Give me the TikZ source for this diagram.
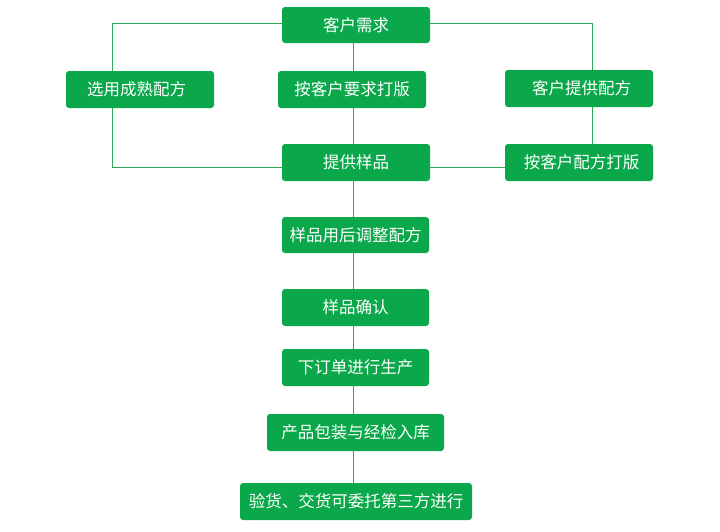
\documentclass[tikz,border=0pt]{standalone}
\usepackage{fontspec}
\setmainfont{Noto Sans CJK SC}
\begin{document}
\begin{tikzpicture}[x=1pt,y=-1pt,
  box/.style={fill=boxgreen, rounded corners=3pt, text=white, font=\fontsize{16.5}{18}\selectfont, inner sep=0pt, anchor=center},
  link/.style={draw=linegreen, line width=0.8pt}]
\definecolor{boxgreen}{HTML}{0AA84A}
\definecolor{linegreen}{HTML}{2DA855}
\useasboundingbox (0,0) rectangle (720,531);
\node[box, minimum width=148pt, minimum height=36pt] (a) at (356,25) {客户需求};
\node[box, minimum width=148pt, minimum height=37pt] (b) at (140,89.5) {\hspace*{-7pt}选用成熟配方};
\node[box, minimum width=148pt, minimum height=37pt] (c) at (352,89.5) {按客户要求打版};
\node[box, minimum width=148pt, minimum height=37pt] (d) at (579,88.5) {\hspace*{5pt}客户提供配方};
\node[box, minimum width=148pt, minimum height=37pt] (e) at (356,162.5) {提供样品};
\node[box, minimum width=148pt, minimum height=37pt] (f) at (579,162.5) {\hspace*{5pt}按客户配方打版};
\node[box, minimum width=147pt, minimum height=36pt] (g) at (355.5,235) {样品用后调整配方};
\node[box, minimum width=147pt, minimum height=37pt] (h) at (355.5,307.5) {样品确认};
\node[box, minimum width=147pt, minimum height=37pt] (i) at (355.5,367.5) {下订单进行生产};
\node[box, minimum width=177pt, minimum height=37pt] (j) at (355.5,432.5) {产品包装与经检入库};
\node[box, minimum width=232pt, minimum height=37pt] (k) at (356,501.5) {验货、交货可委托第三方进行};
\coordinate (tl) at (112,23);
\coordinate (tr) at (592,23);
\coordinate (bl) at (112,167);
\draw[link] (a.west |- 0,23) -- (tl) -- (b.north -| tl);
\draw[link] (b.south -| tl) -- (bl) -- (e.west |- bl);
\draw[link] (a.east |- 0,23) -- (tr) -- (d.north -| tr);
\draw[link] (d.south -| tr) -- (f.north -| tr);
\draw[link] (e.east |- bl) -- (f.west |- bl);
\draw[link] (a.south -| 353.3,0) -- (c.north -| 353.3,0);
\draw[link] (c.south -| 353.3,0) -- (e.north -| 353.3,0);
\draw[link] (e.south -| 353.3,0) -- (g.north -| 353.3,0);
\draw[link] (g.south -| 353.3,0) -- (h.north -| 353.3,0);
\draw[link] (h.south -| 353.3,0) -- (i.north -| 353.3,0);
\draw[link] (i.south -| 353.3,0) -- (j.north -| 353.3,0);
\draw[link] (j.south -| 353.3,0) -- (k.north -| 353.3,0);
\end{tikzpicture}
\end{document}
